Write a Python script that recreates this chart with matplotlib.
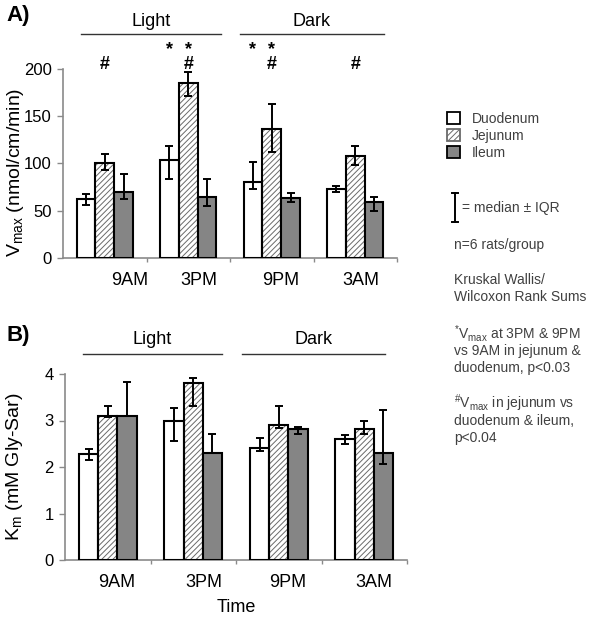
import matplotlib
matplotlib.use("Agg")
import matplotlib.pyplot as plt
import numpy as np
from matplotlib.patches import Patch
from matplotlib.lines import Line2D

plt.rcParams['font.family'] = ['Liberation Sans', 'DejaVu Sans']
plt.rcParams['mathtext.fontset'] = 'custom'
plt.rcParams['mathtext.rm'] = 'Liberation Sans'
plt.rcParams['hatch.linewidth'] = 0.7

times = ["9AM", "3PM", "9PM", "3AM"]
segments = ["Duodenum", "Jejunum", "Ileum"]

# panel A: Vmax medians and IQR (low, high)
vmax_duo = [62, 104, 80, 73]
vmax_duo_lo = [56, 84, 73, 70]
vmax_duo_hi = [68, 119, 102, 76]
vmax_jej = [100, 185, 136, 108]
vmax_jej_lo = [93, 171, 112, 98]
vmax_jej_hi = [110, 197, 163, 119]
vmax_ile = [70, 65, 63, 59]
vmax_ile_lo = [62, 55, 59, 50]
vmax_ile_hi = [89, 84, 69, 65]

# panel B: Km medians and IQR
km_duo = [2.29, 3.0, 2.40, 2.61]
km_duo_lo = [2.14, 2.56, 2.35, 2.49]
km_duo_hi = [2.38, 3.27, 2.62, 2.69]
km_jej = [3.10, 3.81, 2.90, 2.81]
km_jej_lo = [3.07, 3.31, 2.83, 2.72]
km_jej_hi = [3.31, 3.91, 3.31, 3.00]
km_ile = [3.10, 2.30, 2.81, 2.30]
km_ile_lo = [3.10, 2.30, 2.72, 2.06]
km_ile_hi = [3.83, 2.71, 2.86, 3.23]

# significance marks: (time index, segment index)
stars = [(1, 0), (1, 1), (2, 0), (2, 1)]
hashes = [(0, 1), (1, 1), (2, 1), (3, 1)]

W, H = 600, 629
fig = plt.figure(figsize=(6, 6.29), dpi=100)

def fx(px):
    return px / W

def fy(py):
    return 1 - py / H

colors = ["white", "white", "#858585"]
hatches = [None, "//////", None]
offsets = [-0.225, 0.0, 0.225]
bw = 0.225
grey = "#8a8a8a"


def panel(rect, meds, los, his, ylim, yticks, lab_off):
    ax = fig.add_axes(rect)
    x = np.arange(len(times))
    for k in range(3):
        m = np.array(meds[k])
        err = [m - np.array(los[k]), np.array(his[k]) - m]
        if hatches[k]:
            ax.bar(x + offsets[k], m, bw, color="white", edgecolor="#6a6a6a",
                   hatch=hatches[k], linewidth=0, zorder=2)
            ax.bar(x + offsets[k], m, bw, fill=False, edgecolor="black",
                   linewidth=1.5, zorder=3)
        else:
            ax.bar(x + offsets[k], m, bw, color=colors[k], edgecolor="black",
                   linewidth=1.5, zorder=3)
        ax.errorbar(x + offsets[k], m, yerr=err, fmt="none", ecolor="black",
                    elinewidth=1.4, capsize=3, capthick=1.4, zorder=4)
    ax.set_xlim(-0.5, 3.5)
    ax.set_ylim(*ylim)
    ax.set_yticks(yticks)
    ax.set_xticks(x + np.array(lab_off))
    ax.set_xticklabels(times, fontsize=13)
    ax.tick_params(axis="x", length=0, pad=10)
    ax.set_xticks([0.5, 1.5, 2.5, 3.5], minor=True)
    ax.tick_params(axis="x", which="minor", length=3, color=grey, width=1)
    ax.tick_params(axis="y", labelsize=12, length=4, color=grey, width=1, pad=4)
    for s in ["top", "right"]:
        ax.spines[s].set_visible(False)
    for s in ["left", "bottom"]:
        ax.spines[s].set_color(grey)
        ax.spines[s].set_linewidth(1.2)
    return ax


axA = panel([fx(63), fy(258), fx(334), (258 - 69) / H],
            [vmax_duo, vmax_jej, vmax_ile], [vmax_duo_lo, vmax_jej_lo, vmax_ile_lo],
            [vmax_duo_hi, vmax_jej_hi, vmax_ile_hi], (0, 200), [0, 50, 100, 150, 200],
            [0.30, 0.13, 0.11, 0.07])
axA.set_ylabel(r"V$_{\mathregular{max}}$ (nmol/cm/min)", fontsize=14)
axA.yaxis.set_label_coords(-0.11, 0.455)

# one text per bar: star line on top, hash line below
for t in range(len(times)):
    for s in range(3):
        top = "*" if (t, s) in stars else " "
        bot = "#" if (t, s) in hashes else " "
        if top == " " and bot == " ":
            continue
        axA.text(t + offsets[s], 213, top + "\n" + bot, fontsize=13, fontweight="bold",
                 ha="center", va="center", linespacing=0.85, clip_on=False)

axB = panel([fx(65), fy(560), fx(342), (560 - 374) / H],
            [km_duo, km_jej, km_ile], [km_duo_lo, km_jej_lo, km_ile_lo],
            [km_duo_hi, km_jej_hi, km_ile_hi], (0, 4), [0, 1, 2, 3, 4],
            [0.11, 0.12, 0.11, 0.11])
axB.set_ylabel(r"K$_{\mathregular{m}}$ (mM Gly-Sar)", fontsize=14)
axB.yaxis.set_label_coords(-0.117, 0.5)
axB.set_xlabel("Time", fontsize=13, labelpad=6)

# panel letters and light/dark headers
fig.text(fx(6), fy(15), "A)", fontsize=16, fontweight="bold", va="center")
fig.text(fx(6), fy(335), "B)", fontsize=16, fontweight="bold", va="center")
for ytxt, yline, l1, l2, d1, d2 in [(21, 34, 81, 221, 240, 384),
                                    (340, 354, 83, 222, 242, 385)]:
    fig.text(fx((l1 + l2) / 2), fy(ytxt), "Light", fontsize=13, ha="center", va="center")
    fig.text(fx((d1 + d2) / 2), fy(ytxt), "Dark", fontsize=13, ha="center", va="center")
    fig.add_artist(Line2D([fx(l1), fx(l2)], [fy(yline), fy(yline)], color="#333333", lw=1))
    fig.add_artist(Line2D([fx(d1), fx(d2)], [fy(yline), fy(yline)], color="#333333", lw=1))

# legend
handles = [Patch(facecolor="white", edgecolor="black", linewidth=1.3),
           Patch(facecolor="white", edgecolor="#6a6a6a", hatch="//////", linewidth=1.3),
           Patch(facecolor="#858585", edgecolor="black", linewidth=1.3)]
leg = fig.legend(handles, segments, loc="upper left", bbox_to_anchor=(fx(447), fy(112)),
                 handlelength=0.9, handleheight=0.9, handletextpad=0.9, labelspacing=0.2,
                 fontsize=10, frameon=False, borderaxespad=0, borderpad=0)
for t in leg.get_texts():
    t.set_color("#404040")

# error bar key
fig.add_artist(Line2D([fx(455), fx(455)], [fy(193), fy(222)], color="black", lw=1.4))
fig.add_artist(Line2D([fx(452), fx(458)], [fy(193), fy(193)], color="black", lw=1.4))
fig.add_artist(Line2D([fx(452), fx(458)], [fy(222), fy(222)], color="black", lw=1.4))
fig.text(fx(462), fy(208), "= median \u00b1 IQR", fontsize=10, color="#404040", va="center")

notes = [(245, "n=6 rats/group"),
         (280, "Kruskal Wallis/"),
         (297, "Wilcoxon Rank Sums"),
         (333, r"$^{*}$V$_{\mathregular{max}}$ at 3PM & 9PM"),
         (351, "vs 9AM in jejunum &"),
         (368, "duodenum, p<0.03"),
         (403, r"$^{\#}$V$_{\mathregular{max}}$ in jejunum vs"),
         (421, "duodenum & ileum,"),
         (438, "p<0.04")]
for yy, s in notes:
    fig.text(fx(454), fy(yy), s, fontsize=10, color="#404040", va="center")

fig.savefig("out.png", dpi=100)
